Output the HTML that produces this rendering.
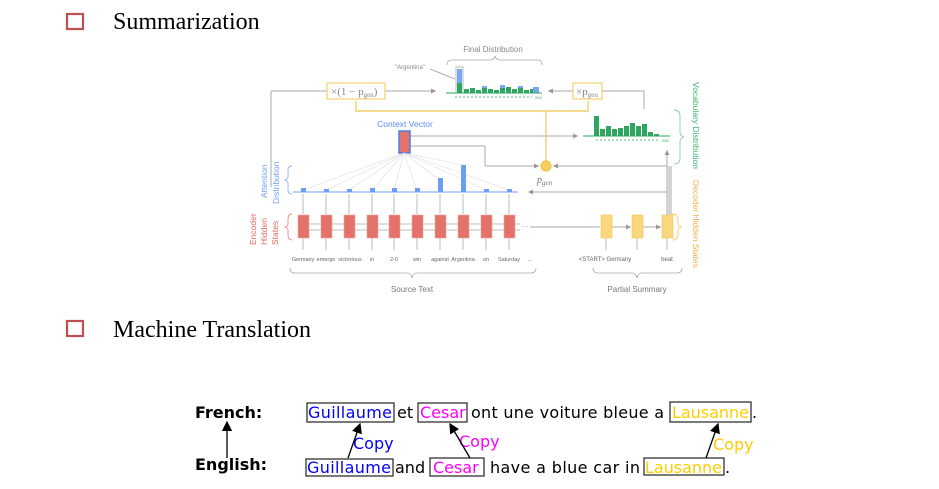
<!DOCTYPE html>
<html><head><meta charset="utf-8"><style>
body{margin:0;background:#fff;}
svg{display:block}
</style></head><body>
<svg width="939" height="489" viewBox="0 0 939 489" xmlns="http://www.w3.org/2000/svg" font-family="Liberation Sans, sans-serif">
<defs>
<marker id="ga" markerWidth="6" markerHeight="6" refX="5" refY="3" orient="auto"><path d="M0,0.5 L5,3 L0,5.5z" fill="#999"/></marker>
<marker id="ka" markerWidth="8" markerHeight="8" refX="7" refY="4" orient="auto"><path d="M0,0 L8,4 L0,8z" fill="#000"/></marker>
</defs>
<!-- headings -->
<rect x="67" y="14" width="16" height="15" fill="none" stroke="#c0504d" stroke-width="2.2"/>
<text x="113" y="29" font-family="Liberation Serif, serif" font-size="24">Summarization</text>
<rect x="67" y="321" width="16" height="15" fill="none" stroke="#c0504d" stroke-width="2.2"/>
<text x="113" y="337" font-family="Liberation Serif, serif" font-size="24">Machine Translation</text>

<!-- diagram -->
<g stroke="#aaa" stroke-width="1" fill="none">
<line x1="271" y1="187" x2="271" y2="91"/>
<line x1="271" y1="91" x2="327" y2="91"/>
<line x1="385" y1="91" x2="436" y2="91" marker-end="url(#ga)"/>
<line x1="644" y1="91" x2="644" y2="109"/>
<line x1="644" y1="91" x2="602" y2="91"/>
<line x1="573" y1="91" x2="548" y2="91" marker-end="url(#ga)"/>
<line x1="410" y1="136" x2="578" y2="136" marker-end="url(#ga)"/>
<line x1="410" y1="146" x2="485" y2="146"/>
<line x1="485" y1="146" x2="485" y2="166"/>
<line x1="485" y1="166" x2="539" y2="166" marker-end="url(#ga)"/>
<line x1="667" y1="166" x2="553" y2="166" marker-end="url(#ga)"/>
<line x1="667" y1="192" x2="528" y2="192" marker-end="url(#ga)"/>
<line x1="667" y1="215" x2="667" y2="150" marker-end="url(#ga)"/>
<line x1="669" y1="215" x2="669" y2="166"/>
<line x1="671" y1="215" x2="671" y2="166"/>
<line x1="530" y1="227" x2="600" y2="227"/>
<line x1="612" y1="227" x2="631" y2="227" marker-end="url(#ga)"/>
<line x1="642" y1="227" x2="661" y2="227" marker-end="url(#ga)"/>
</g>
<text x="521" y="229" font-size="8" fill="#aaa">···</text>
<g stroke="#f5c451" stroke-width="1.2" fill="none">
<polyline points="356,101 356,111 588,111 588,101"/>
<line x1="546" y1="111" x2="546" y2="161"/>
</g>
<circle cx="546" cy="166" r="5" fill="#f8cf5a" stroke="#f0b93a"/>
<text x="537" y="183" font-family="Liberation Serif, serif" font-style="italic" font-size="10" fill="#777">p<tspan font-size="7" dy="2">gen</tspan></text>
<rect x="327" y="83" width="58" height="16" fill="#fff" stroke="#f5c451"/>
<text x="331" y="95" font-family="Liberation Serif, serif" font-size="11" fill="#888">×(1 − p<tspan font-size="7" dy="2">gen</tspan><tspan dy="-2">)</tspan></text>
<rect x="573" y="83" width="29" height="16" fill="#fff" stroke="#f5c451"/>
<text x="576" y="95" font-family="Liberation Serif, serif" font-size="11" fill="#888">×p<tspan font-size="7" dy="2">gen</tspan></text>
<text x="493" y="52" font-size="8" fill="#888" text-anchor="middle">Final Distribution</text>
<path d="M447 65 Q447 60 452 60 H490 Q494 60 495 56 Q496 60 500 60 H538 Q542 60 542 65" fill="none" stroke="#aaa" stroke-width="0.8"/>
<text x="395" y="69" font-size="6" fill="#888">"Argentina"</text>
<line x1="430" y1="69" x2="455" y2="79" stroke="#999" stroke-width="0.7"/>
<rect x="456" y="67" width="7" height="26" fill="none" stroke="#bbb"/>
<rect x="457" y="69" width="5" height="14" fill="#7aa7f2"/>
<rect x="457" y="83" width="5" height="10" fill="#2fa562"/>
<g fill="#2fa562">
<rect x="464" y="89" width="5" height="4"/><rect x="470" y="88" width="5" height="5"/><rect x="476" y="90" width="5" height="3"/><rect x="482" y="88" width="5" height="5"/><rect x="488" y="89" width="5" height="4"/><rect x="494" y="90" width="5" height="3"/><rect x="500" y="88" width="5" height="5"/><rect x="506" y="87" width="5" height="6"/><rect x="512" y="89" width="5" height="4"/><rect x="518" y="88" width="5" height="5"/><rect x="524" y="90" width="5" height="3"/><rect x="530" y="89" width="5" height="4"/>
</g>
<g fill="#7aa7f2"><rect x="482" y="86" width="5" height="2"/><rect x="500" y="85" width="5" height="3"/><rect x="518" y="86" width="5" height="2"/><rect x="533" y="87" width="6" height="6"/></g>
<line x1="446" y1="93" x2="542" y2="93" stroke="#2fa562"/>
<line x1="455" y1="97" x2="532" y2="97" stroke="#2fa562" stroke-dasharray="2,2" stroke-width="0.7"/>
<text x="535" y="99" font-size="4" fill="#2fa562">200</text>
<g fill="#2fa562">
<rect x="594" y="116" width="5" height="20"/><rect x="600" y="129" width="5" height="7"/><rect x="606" y="126" width="5" height="10"/><rect x="612" y="129" width="5" height="7"/><rect x="618" y="128" width="5" height="8"/><rect x="624" y="126" width="5" height="10"/><rect x="630" y="123" width="5" height="13"/><rect x="636" y="126" width="5" height="10"/><rect x="642" y="124" width="5" height="12"/><rect x="648" y="132" width="5" height="4"/><rect x="654" y="134" width="5" height="2"/>
</g>
<line x1="583" y1="136" x2="670" y2="136" stroke="#2fa562"/>
<line x1="596" y1="140" x2="660" y2="140" stroke="#2fa562" stroke-dasharray="2,2" stroke-width="0.7"/>
<text x="662" y="142" font-size="4" fill="#2fa562">200</text>
<path d="M674 110 Q680 110 680 116 V132 Q680 136 684 137 Q680 138 680 142 V158 Q680 164 674 164" fill="none" stroke="#7fd2a4" stroke-width="0.9"/>
<text transform="translate(693,82) rotate(90)" font-size="8.5" fill="#3cb371">Vocabulary Distribution</text>
<path d="M672 214 Q678 214 678 220 V224 Q678 226 682 227 Q678 228 678 230 V234 Q678 240 672 240" fill="none" stroke="#f7c978" stroke-width="0.9"/>
<text transform="translate(693,180) rotate(90)" font-size="8.5" fill="#f5b04d">Decoder Hidden States</text>
<text x="405" y="127" font-size="8.5" fill="#5b8ef0" text-anchor="middle">Context Vector</text>
<rect x="399" y="131" width="11" height="22" fill="#e2726a" stroke="#4a7ee0" stroke-width="1.5"/>
<g stroke="#ddd" stroke-width="0.6">
<line x1="404" y1="153" x2="303" y2="190"/><line x1="404" y1="153" x2="326" y2="190"/><line x1="404" y1="153" x2="349" y2="190"/><line x1="404" y1="153" x2="372" y2="190"/><line x1="404" y1="153" x2="394" y2="190"/><line x1="404" y1="153" x2="417" y2="190"/><line x1="404" y1="153" x2="440" y2="180"/><line x1="404" y1="153" x2="463" y2="165"/><line x1="404" y1="153" x2="486" y2="190"/><line x1="404" y1="153" x2="509" y2="190"/>
</g>
<line x1="293" y1="192" x2="518" y2="192" stroke="#8bb3f5" stroke-width="1.2"/>
<g fill="#6b9ef2">
<rect x="301" y="188" width="5" height="4"/><rect x="324" y="189" width="5" height="3"/><rect x="347" y="189" width="5" height="3"/><rect x="370" y="188" width="5" height="4"/><rect x="392" y="188" width="5" height="4"/><rect x="415" y="188" width="5" height="4"/><rect x="438" y="178" width="5" height="14"/><rect x="461" y="165" width="5" height="27"/><rect x="484" y="189" width="5" height="3"/><rect x="507" y="189" width="5" height="3"/>
</g>
<path d="M292 166 Q288 166 288 170 V177 Q288 179 285 180 Q288 181 288 183 V190 Q288 194 292 194" fill="none" stroke="#8bb3f5" stroke-width="0.9"/>
<text transform="translate(267,198) rotate(-90)" font-size="8.5" fill="#6b9ef2">Attention</text>
<text transform="translate(279,204) rotate(-90)" font-size="8.5" fill="#6b9ef2">Distribution</text>
<path d="M292 214 Q288 214 288 219 V224 Q288 226 285 227 Q288 228 288 230 V235 Q288 240 292 240" fill="none" stroke="#ef8a80" stroke-width="0.9"/>
<text transform="translate(256,245) rotate(-90)" font-size="8.5" fill="#e8675e">Encoder</text>
<text transform="translate(267,245) rotate(-90)" font-size="8.5" fill="#e8675e">Hidden</text>
<text transform="translate(278,245) rotate(-90)" font-size="8.5" fill="#e8675e">States</text>
<g stroke="#aaa" stroke-width="0.8">
<line x1="303" y1="214" x2="303" y2="194"/><line x1="326" y1="214" x2="326" y2="194"/><line x1="349" y1="214" x2="349" y2="194"/><line x1="372" y1="214" x2="372" y2="194"/><line x1="394" y1="214" x2="394" y2="194"/><line x1="417" y1="214" x2="417" y2="194"/><line x1="440" y1="214" x2="440" y2="194"/><line x1="463" y1="214" x2="463" y2="194"/><line x1="486" y1="214" x2="486" y2="194"/><line x1="509" y1="214" x2="509" y2="194"/>
<line x1="303" y1="250" x2="303" y2="238"/><line x1="326" y1="250" x2="326" y2="238"/><line x1="349" y1="250" x2="349" y2="238"/><line x1="372" y1="250" x2="372" y2="238"/><line x1="394" y1="250" x2="394" y2="238"/><line x1="417" y1="250" x2="417" y2="238"/><line x1="440" y1="250" x2="440" y2="238"/><line x1="463" y1="250" x2="463" y2="238"/><line x1="486" y1="250" x2="486" y2="238"/><line x1="509" y1="250" x2="509" y2="238"/>
<line x1="606" y1="250" x2="606" y2="238"/><line x1="637" y1="250" x2="637" y2="238"/><line x1="667" y1="250" x2="667" y2="238"/>
<line x1="298" y1="224" x2="520" y2="224"/><line x1="298" y1="230" x2="520" y2="230"/>
</g>
<g fill="#e2726a" stroke="#f0a29a" stroke-width="0.6">
<rect x="298" y="215" width="11" height="23"/><rect x="321" y="215" width="11" height="23"/><rect x="344" y="215" width="11" height="23"/><rect x="367" y="215" width="11" height="23"/><rect x="389" y="215" width="11" height="23"/><rect x="412" y="215" width="11" height="23"/><rect x="435" y="215" width="11" height="23"/><rect x="458" y="215" width="11" height="23"/><rect x="481" y="215" width="11" height="23"/><rect x="504" y="215" width="11" height="23"/>
</g>
<g fill="#f9d77f" stroke="#f5c451" stroke-width="0.6">
<rect x="601" y="215" width="11" height="23"/><rect x="632" y="215" width="11" height="23"/><rect x="662" y="215" width="11" height="23"/>
</g>
<g font-size="5.5" fill="#666" text-anchor="middle">
<text x="303" y="261">Germany</text><text x="326" y="261">emerge</text><text x="350" y="261">victorious</text><text x="372" y="261">in</text><text x="394" y="261">2-0</text><text x="417" y="261">win</text><text x="440" y="261">against</text><text x="463" y="261">Argentina</text><text x="486" y="261">on</text><text x="509" y="261">Saturday</text><text x="530" y="261">...</text>
<text x="605" y="261" font-size="6">&lt;START&gt; Germany</text><text x="667" y="261" font-size="6">beat</text>
</g>
<path d="M290 268 Q290 273 295 273 H407 Q411 273 412 278 Q413 273 417 273 H531 Q536 273 536 268" fill="none" stroke="#aaa" stroke-width="0.8"/>
<text x="412" y="292" font-size="8" fill="#777" text-anchor="middle">Source Text</text>
<path d="M593 268 Q593 273 598 273 H632 Q636 273 637 278 Q638 273 642 273 H677 Q682 273 682 268" fill="none" stroke="#aaa" stroke-width="0.8"/>
<text x="637" y="292" font-size="8" fill="#777" text-anchor="middle">Partial Summary</text>

<!-- translation -->
<g font-family="DejaVu Sans, sans-serif" font-size="16">
<text x="195" y="418" font-weight="bold">French:</text>
<text x="195" y="470" font-weight="bold">English:</text>
<rect x="307" y="403" width="87" height="19" fill="none" stroke="#333" stroke-width="1.3"/>
<text x="308" y="418" fill="#0000ff" textLength="84">Guillaume</text>
<text x="397" y="418">et</text>
<rect x="418" y="403" width="49" height="19" fill="none" stroke="#333" stroke-width="1.3"/>
<text x="420" y="418" fill="#ff00ff">Cesar</text>
<text x="471" y="418" textLength="193">ont une voiture bleue a</text>
<rect x="670" y="402" width="81" height="20" fill="none" stroke="#333" stroke-width="1.3"/>
<text x="672" y="418" fill="#ffcc00" textLength="77">Lausanne</text>
<text x="752" y="418">.</text>
<rect x="306" y="459" width="87" height="17" fill="none" stroke="#333" stroke-width="1.3"/>
<text x="307" y="473" fill="#0000ff" textLength="84">Guillaume</text>
<text x="395" y="473">and</text>
<rect x="430" y="458" width="54" height="18" fill="none" stroke="#333" stroke-width="1.3"/>
<text x="433" y="473" fill="#ff00ff">Cesar</text>
<text x="490" y="473" textLength="150">have a blue car in</text>
<rect x="644" y="458" width="80" height="17" fill="none" stroke="#333" stroke-width="1.3"/>
<text x="645" y="473" fill="#ffcc00" textLength="77">Lausanne</text>
<text x="725" y="473">.</text>
<text x="353" y="449" fill="#0000ff">Copy</text>
<text x="459" y="447" fill="#ff00ff">Copy</text>
<text x="713" y="450" fill="#ffcc00">Copy</text>
</g>
<g stroke="#000" stroke-width="1.3">
<line x1="227" y1="458" x2="227" y2="422" marker-end="url(#ka)"/>
<line x1="348" y1="458" x2="360" y2="424" marker-end="url(#ka)"/>
<line x1="470" y1="458" x2="450" y2="424" marker-end="url(#ka)"/>
<line x1="706" y1="458" x2="718" y2="424" marker-end="url(#ka)"/>
</g>
</svg>
</body></html>
